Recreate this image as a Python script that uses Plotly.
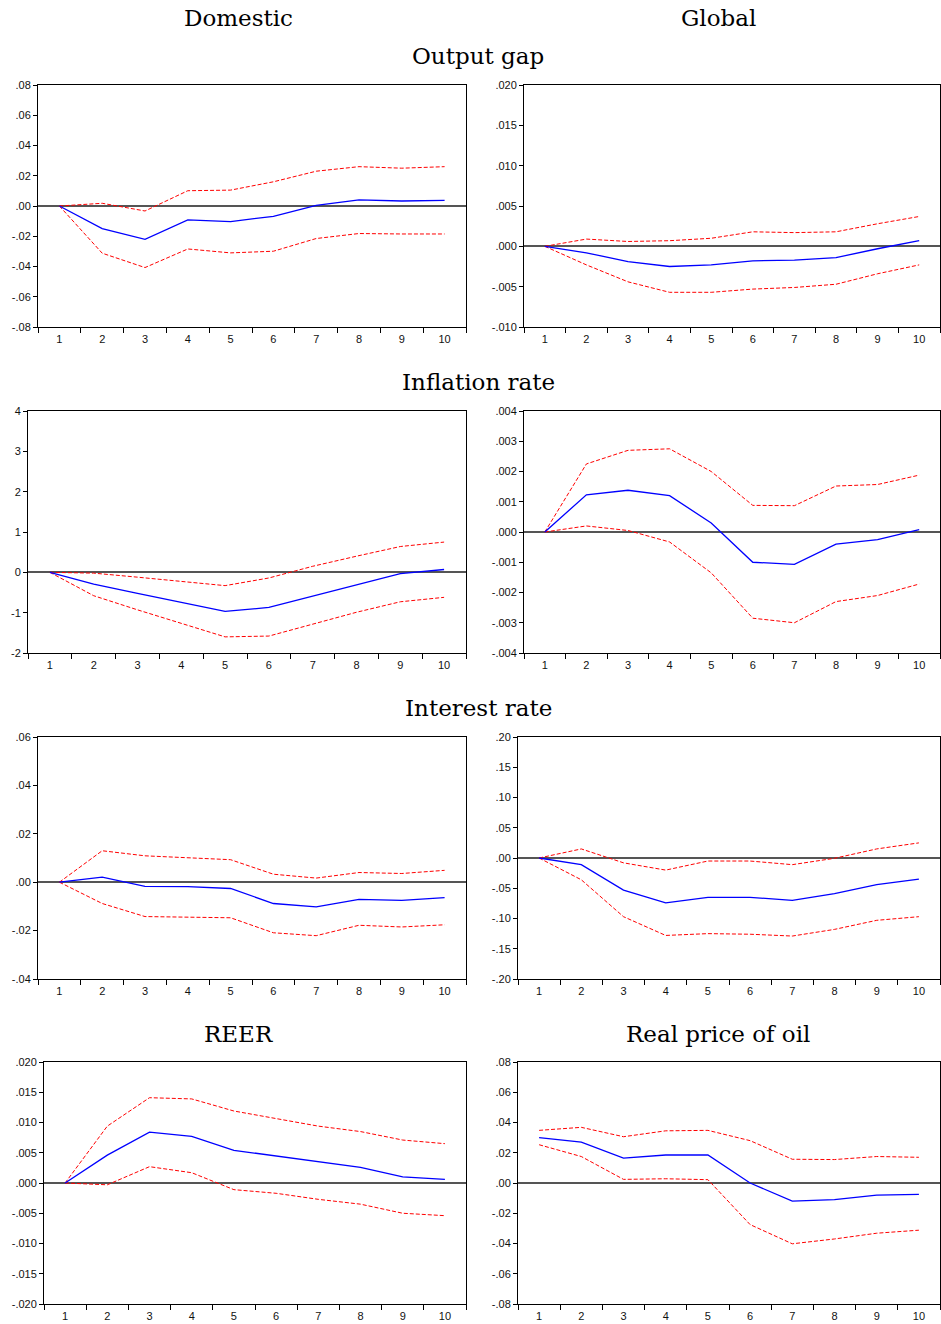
import plotly.graph_objects as go

# Horizon (periods after the shock)
periods = ["1", "2", "3", "4", "5", "6", "7", "8", "9", "10"]

# Domestic: output gap
dom_gap_resp = [0.0, -0.0149, -0.0220, -0.0092, -0.0103, -0.0068, 0.0004, 0.0040, 0.0033, 0.0037]
dom_gap_upper = [0.0, 0.0018, -0.0033, 0.0101, 0.0105, 0.0160, 0.0230, 0.0260, 0.0250, 0.0260]
dom_gap_lower = [0.0, -0.0312, -0.0407, -0.0284, -0.0310, -0.0299, -0.0215, -0.0182, -0.0185, -0.0185]

# Global: output gap
glb_gap_resp = [0.0, -0.0008, -0.0019, -0.0025, -0.0023, -0.0018, -0.0017, -0.0014, -0.0003, 0.0007]
glb_gap_upper = [0.0, 0.0009, 0.0006, 0.0007, 0.0010, 0.0018, 0.0017, 0.0018, 0.0028, 0.0037]
glb_gap_lower = [0.0, -0.0023, -0.0044, -0.0057, -0.0057, -0.0053, -0.0051, -0.0047, -0.0034, -0.0023]

# Domestic: inflation rate
dom_inf_resp = [0.0, -0.29, -0.52, -0.75, -0.97, -0.87, -0.59, -0.31, -0.03, 0.07]
dom_inf_upper = [0.0, -0.02, -0.12, -0.22, -0.33, -0.14, 0.15, 0.40, 0.64, 0.75]
dom_inf_lower = [0.0, -0.58, -0.93, -1.27, -1.60, -1.58, -1.29, -0.99, -0.73, -0.62]

# Global: inflation rate
glb_inf_resp = [0.0, 0.00123, 0.00138, 0.00120, 0.00030, -0.00100, -0.00107, -0.00040, -0.00025, 0.00008]
glb_inf_upper = [0.0, 0.00225, 0.00270, 0.00275, 0.00200, 0.00088, 0.00087, 0.00152, 0.00157, 0.00188]
glb_inf_lower = [0.0, 0.00020, 0.00005, -0.00033, -0.00135, -0.00285, -0.00300, -0.00230, -0.00210, -0.00172]

# Domestic: interest rate
dom_int_resp = [0.0, 0.0021, -0.0017, -0.0018, -0.0026, -0.0088, -0.0102, -0.0071, -0.0075, -0.0064]
dom_int_upper = [0.0, 0.0130, 0.0109, 0.0101, 0.0093, 0.0033, 0.0017, 0.0040, 0.0036, 0.0049]
dom_int_lower = [0.0, -0.0088, -0.0142, -0.0143, -0.0147, -0.0209, -0.0221, -0.0178, -0.0185, -0.0176]

# Global: interest rate
glb_int_resp = [0.0, -0.011, -0.053, -0.074, -0.065, -0.065, -0.070, -0.059, -0.044, -0.035]
glb_int_upper = [0.0, 0.015, -0.008, -0.020, -0.005, -0.005, -0.011, -0.0005, 0.015, 0.025]
glb_int_lower = [0.0, -0.036, -0.097, -0.128, -0.125, -0.126, -0.129, -0.118, -0.103, -0.097]

# Domestic: REER
dom_reer_resp = [0.0, 0.0046, 0.0084, 0.0077, 0.0054, 0.0045, 0.0035, 0.0026, 0.0010, 0.0006]
dom_reer_upper = [0.0, 0.0094, 0.0141, 0.0139, 0.0119, 0.0107, 0.0094, 0.0085, 0.0071, 0.0065]
dom_reer_lower = [0.0, -0.0003, 0.0027, 0.0017, -0.0011, -0.0017, -0.0027, -0.0035, -0.0050, -0.0054]

# Global: real price of oil
glb_oil_resp = [0.0300, 0.0270, 0.0165, 0.0185, 0.0185, 0.0000, -0.0120, -0.0110, -0.0080, -0.0075]
glb_oil_upper = [0.0348, 0.0368, 0.0306, 0.0345, 0.0348, 0.0280, 0.0157, 0.0155, 0.0175, 0.0170]
glb_oil_lower = [0.0253, 0.0175, 0.0024, 0.0028, 0.0022, -0.0275, -0.0402, -0.0370, -0.0332, -0.0312]

# Y-axis ticks for each panel
gap_dom_ticks = [-0.08, -0.06, -0.04, -0.02, 0.0, 0.02, 0.04, 0.06, 0.08]
gap_dom_labels = ["-.08", "-.06", "-.04", "-.02", ".00", ".02", ".04", ".06", ".08"]
gap_glb_ticks = [-0.010, -0.005, 0.0, 0.005, 0.010, 0.015, 0.020]
gap_glb_labels = ["-.010", "-.005", ".000", ".005", ".010", ".015", ".020"]
inf_dom_ticks = [-2, -1, 0, 1, 2, 3, 4]
inf_dom_labels = ["-2", "-1", "0", "1", "2", "3", "4"]
inf_glb_ticks = [-0.004, -0.003, -0.002, -0.001, 0.0, 0.001, 0.002, 0.003, 0.004]
inf_glb_labels = ["-.004", "-.003", "-.002", "-.001", ".000", ".001", ".002", ".003", ".004"]
int_dom_ticks = [-0.04, -0.02, 0.0, 0.02, 0.04, 0.06]
int_dom_labels = ["-.04", "-.02", ".00", ".02", ".04", ".06"]
int_glb_ticks = [-0.20, -0.15, -0.10, -0.05, 0.0, 0.05, 0.10, 0.15, 0.20]
int_glb_labels = ["-.20", "-.15", "-.10", "-.05", ".00", ".05", ".10", ".15", ".20"]
reer_ticks = [-0.020, -0.015, -0.010, -0.005, 0.0, 0.005, 0.010, 0.015, 0.020]
reer_labels = ["-.020", "-.015", "-.010", "-.005", ".000", ".005", ".010", ".015", ".020"]
oil_ticks = [-0.08, -0.06, -0.04, -0.02, 0.0, 0.02, 0.04, 0.06, 0.08]
oil_labels = ["-.08", "-.06", "-.04", "-.02", ".00", ".02", ".04", ".06", ".08"]

W, H = 941, 1324

# (response, lower, upper, tickvals, ticktext, [left, right, top, bottom] in px)
panels = [
    (dom_gap_resp, dom_gap_lower, dom_gap_upper, gap_dom_ticks, gap_dom_labels, [38, 466, 85, 327]),
    (glb_gap_resp, glb_gap_lower, glb_gap_upper, gap_glb_ticks, gap_glb_labels, [524, 940, 85, 327]),
    (dom_inf_resp, dom_inf_lower, dom_inf_upper, inf_dom_ticks, inf_dom_labels, [28, 466, 411, 653]),
    (glb_inf_resp, glb_inf_lower, glb_inf_upper, inf_glb_ticks, inf_glb_labels, [524, 940, 411, 653]),
    (dom_int_resp, dom_int_lower, dom_int_upper, int_dom_ticks, int_dom_labels, [38, 466, 737, 979]),
    (glb_int_resp, glb_int_lower, glb_int_upper, int_glb_ticks, int_glb_labels, [518, 940, 737, 979]),
    (dom_reer_resp, dom_reer_lower, dom_reer_upper, reer_ticks, reer_labels, [44, 466, 1062, 1304]),
    (glb_oil_resp, glb_oil_lower, glb_oil_upper, oil_ticks, oil_labels, [518, 940, 1062, 1304]),
]

tick_font = dict(family="Liberation Sans, Arial, sans-serif", size=11, color="#111")
title_font = dict(family="DejaVu Serif, serif", size=23, color="#000")

fig = go.Figure()
layout = {}

for i, (resp, lower, upper, tv, tt, (l, r, t, b)) in enumerate(panels, start=1):
    sfx = "" if i == 1 else str(i)
    xref, yref = "x" + sfx, "y" + sfx
    for band in (upper, lower):
        fig.add_trace(go.Scatter(
            x=periods, y=band, xaxis=xref, yaxis=yref, mode="lines",
            line=dict(color="#ff0000", width=1, dash="4px,2px"),
            showlegend=False, hoverinfo="skip"))
    fig.add_trace(go.Scatter(
        x=periods, y=resp, xaxis=xref, yaxis=yref, mode="lines",
        line=dict(color="#0000ff", width=1.3), showlegend=False))

    layout["xaxis" + sfx] = dict(
        domain=[l / W, r / W], anchor=yref, type="category",
        range=[-0.5, len(periods) - 0.5], automargin=False,
        tickson="boundaries", ticks="outside", ticklen=5, tickwidth=1,
        tickcolor="#000", showline=True, linecolor="#000", linewidth=1,
        mirror=True, showgrid=False, zeroline=False, tickfont=tick_font,
        ticklabelstandoff=2, fixedrange=True)
    layout["yaxis" + sfx] = dict(
        domain=[1 - b / H, 1 - t / H], anchor=xref, automargin=False,
        range=[tv[0], tv[-1]], tickvals=tv, ticktext=tt,
        ticks="outside", ticklen=4, tickwidth=1, tickcolor="#000",
        showline=True, linecolor="#000", linewidth=1, mirror=True,
        showgrid=False, zeroline=True, zerolinecolor="#555555",
        zerolinewidth=1.5, tickfont=tick_font, fixedrange=True)

# Column and panel headings
headings = [
    ("Domestic", 238, 18),
    ("Global", 718, 18),
    ("Output gap", 478, 56),
    ("Inflation rate", 478, 382),
    ("Interest rate", 478, 708),
    ("REER", 238, 1034),
    ("Real price of oil", 718, 1034),
]
annotations = [
    dict(text=txt, x=cx / W, y=1 - cy / H, xref="paper", yref="paper",
         xanchor="center", yanchor="middle", showarrow=False, font=title_font)
    for txt, cx, cy in headings
]

fig.update_layout(
    width=W, height=H,
    margin=dict(l=0, r=0, t=0, b=0, autoexpand=False),
    paper_bgcolor="#ffffff", plot_bgcolor="#ffffff",
    annotations=annotations,
    **layout,
)

fig.write_html("out.html")
